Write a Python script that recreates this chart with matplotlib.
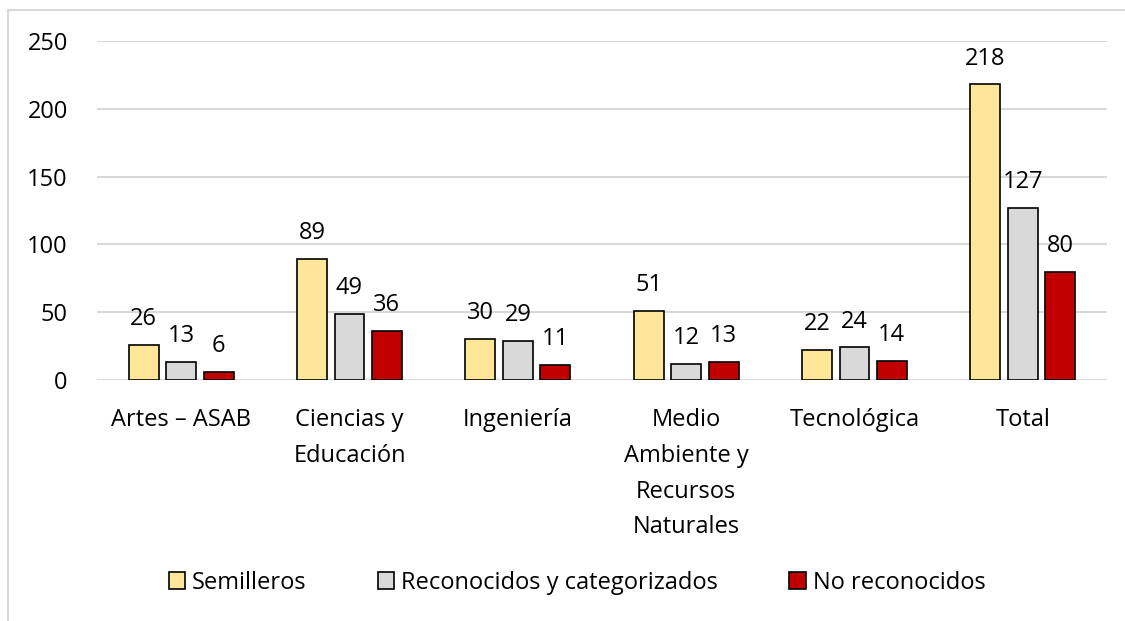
import matplotlib
matplotlib.use("Agg")
import matplotlib.pyplot as plt
import numpy as np
from matplotlib.patches import Rectangle

plt.rcParams['font.family'] = ['Open Sans', 'DejaVu Sans']

categories = ["Artes – ASAB", "Ciencias y\nEducación", "Ingeniería",
              "Medio\nAmbiente y\nRecursos\nNaturales", "Tecnológica", "Total"]
series_names = ["Semilleros", "Reconocidos y categorizados", "No reconocidos"]
semilleros = [26, 89, 30, 51, 22, 218]
reconocidos = [13, 49, 29, 12, 24, 127]
no_reconocidos = [6, 36, 11, 13, 14, 80]
colors = ["#FFE699", "#D9D9D9", "#C00000"]

FS = 17

fig = plt.figure(figsize=(11.25, 6.21), dpi=100)
fig.patches.append(Rectangle((8/1125, -0.1), 1.2, (621-10)/621 + 0.1,
                             transform=fig.transFigure, fill=False,
                             edgecolor="#D9D9D9", linewidth=1.5))
ax = fig.add_axes([97/1125, (621-380)/621, (1107-97)/1125, (380-41)/621])

x = np.arange(len(categories))
w = 0.178
step = 0.222
for i, (vals, c, name) in enumerate(zip([semilleros, reconocidos, no_reconocidos], colors, series_names)):
    bars = ax.bar(x + (i - 1) * step, vals, width=w, color=c, edgecolor="black",
                  linewidth=1.2, label=name, zorder=3)
    for b, v in zip(bars, vals):
        ax.annotate(str(v), (b.get_x() + b.get_width() / 2, v), xytext=(0, 10),
                    textcoords="offset points", ha="center", va="bottom",
                    fontsize=FS, color="black")

ax.set_xlim(-0.5, len(categories) - 0.5)
ax.set_ylim(0, 250)
ax.set_yticks(range(0, 251, 50))
ax.yaxis.grid(True, color="#D9D9D9", linewidth=1.5, zorder=0)
ax.set_axisbelow(True)
for s in ["top", "right", "left", "bottom"]:
    ax.spines[s].set_visible(False)
ax.tick_params(axis="both", length=0, labelsize=FS)
ax.tick_params(axis="y", pad=21)
ax.tick_params(axis="x", pad=20)
ax.set_xticks(x)
ax.set_xticklabels(categories, linespacing=1.66)

leg = ax.legend(loc="center", bbox_to_anchor=(577/1125, (621-583)/621),
                bbox_transform=fig.transFigure, ncol=3, frameon=False,
                fontsize=FS, handlelength=0.7, handleheight=0.7,
                handletextpad=0.3, columnspacing=3.0)

fig.savefig("out.png", dpi=100)
